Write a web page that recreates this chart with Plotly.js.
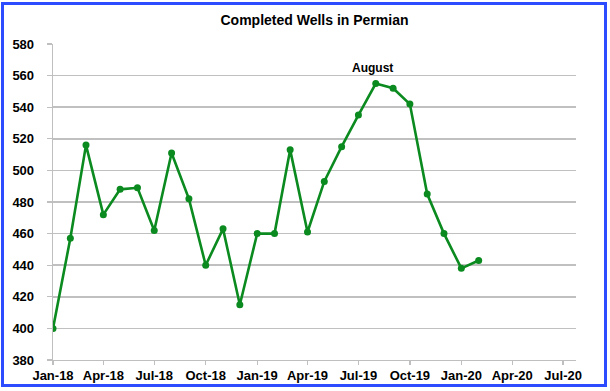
<!DOCTYPE html>
<html>
<head>
<meta charset="utf-8">
<script src="https://cdn.plot.ly/plotly-3.0.1.min.js"></script>
<style>
  html, body { margin: 0; padding: 0; background: #ffffff; }
  #wrap { position: relative; width: 610px; height: 391px; }
  #chart { position: absolute; left: 0; top: 0; width: 610px; height: 391px; }
  #frame { position: absolute; left: 1px; top: 2px; width: 600px; height: 379px;
           border: 3px solid #2d4cff; pointer-events: none; }
</style>
</head>
<body>
<div id="wrap">
  <div id="chart"></div>
  <div id="frame"></div>
</div>
<script>
const months = ['2018-01-01','2018-02-01','2018-03-01','2018-04-01','2018-05-01','2018-06-01',
  '2018-07-01','2018-08-01','2018-09-01','2018-10-01','2018-11-01','2018-12-01',
  '2019-01-01','2019-02-01','2019-03-01','2019-04-01','2019-05-01','2019-06-01',
  '2019-07-01','2019-08-01','2019-09-01','2019-10-01','2019-11-01','2019-12-01',
  '2020-01-01','2020-02-01'];
const completedWells = [400, 457, 516, 472, 488, 489, 462, 511, 482, 440, 463, 415,
  460, 460, 513, 461, 493, 515, 535, 555, 552, 542, 485, 460, 438, 443];
const chartTitle = 'Completed Wells in Permian';
const peakLabel = 'August';
const peakMonth = '2019-08-01';
const peakLabelValue = 565;

const boldFont = {family: 'Liberation Sans, Arial, sans-serif', size: 13, color: '#000000', weight: 'bold'};

const trace = {
  x: months,
  y: completedWells,
  type: 'scatter',
  mode: 'lines+markers',
  line: {color: '#0b8a1f', width: 2.6},
  marker: {color: '#0b8a1f', size: 7},
  hoverinfo: 'x+y'
};

const layout = {
  width: 610,
  height: 391,
  margin: {l: 53, r: 34, t: 44, b: 31},
  paper_bgcolor: '#ffffff',
  plot_bgcolor: '#ffffff',
  showlegend: false,
  title: {
    text: chartTitle,
    font: {family: 'Liberation Sans, Arial, sans-serif', size: 14, color: '#000000', weight: 'bold'},
    x: 0.5, xanchor: 'center', xref: 'paper',
    y: 1 - 20/391, yanchor: 'middle'
  },
  xaxis: {
    type: 'date',
    range: ['2018-01-01', '2020-07-24'],
    tick0: '2018-01-01',
    dtick: 'M3',
    tickformat: '%b-%y',
    tickfont: boldFont,
    ticks: 'outside',
    ticklen: 4,
    tickcolor: '#bfbfbf',
    tickwidth: 1.3,
    showgrid: false,
    showline: true,
    linecolor: '#bfbfbf',
    linewidth: 1.3,
    zeroline: false,
    ticklabelstandoff: -1,
    fixedrange: true
  },
  yaxis: {
    range: [380, 580],
    dtick: 20,
    tick0: 380,
    tickfont: boldFont,
    ticks: 'outside',
    ticklen: 5,
    tickcolor: '#bfbfbf',
    tickwidth: 1.3,
    showgrid: true,
    gridcolor: '#c0c0c0',
    gridwidth: 1.5,
    showline: true,
    linecolor: '#bfbfbf',
    linewidth: 1.3,
    zeroline: false,
    ticklabelstandoff: 10,
    fixedrange: true
  },
  annotations: [{
    x: peakMonth,
    y: peakLabelValue,
    xref: 'x', yref: 'y',
    text: peakLabel,
    showarrow: false,
    xshift: -3,
    font: {family: 'Liberation Sans, Arial, sans-serif', size: 12, color: '#000000', weight: 'bold'}
  }]
};

Plotly.newPlot('chart', [trace], layout, {displayModeBar: false, staticPlot: true});
</script>
</body>
</html>
